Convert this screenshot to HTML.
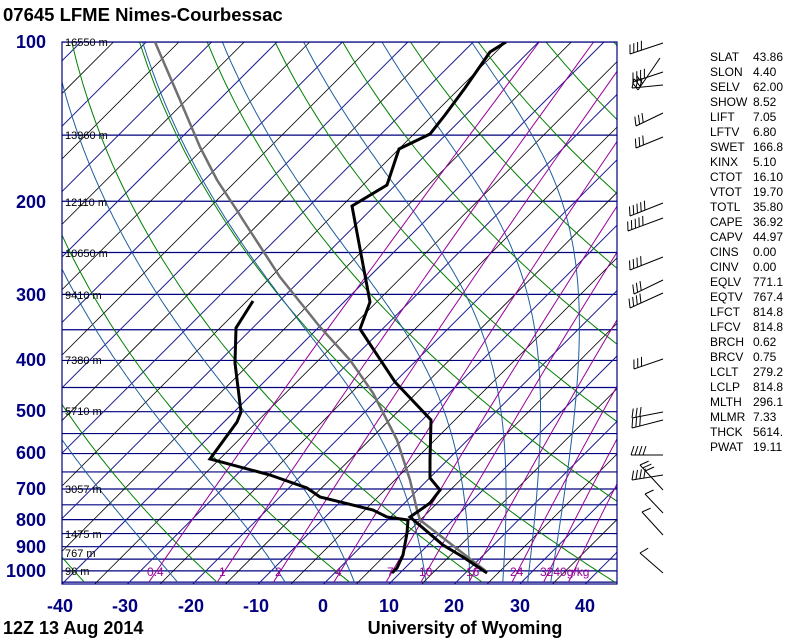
<!DOCTYPE html>
<html><head><meta charset="utf-8"><style>
html,body{margin:0;padding:0;background:#fff;width:800px;height:640px;overflow:hidden}
svg{display:block}
text{font-family:"Liberation Sans",sans-serif}
.pl{font-size:18px;font-weight:bold;fill:#000080;text-anchor:end}
.xl{font-size:18px;font-weight:bold;fill:#000080;text-anchor:middle}
.hl{font-size:11px;fill:#000}
.ix{font-size:12px;fill:#000}
.mr{font-size:12px;fill:#990099}
</style></head><body>
<svg id="s" width="800" height="640" viewBox="0 0 800 640" xmlns="http://www.w3.org/2000/svg">
<defs><clipPath id="c"><rect x="62" y="42" width="555" height="542"/></clipPath></defs>
<g id="grid" clip-path="url(#c)"></g>
<rect x="62" y="42" width="555" height="542" fill="none" stroke="#000080" stroke-width="1.2"/>
<g id="prof" clip-path="url(#c)">
<polyline fill="none" stroke="#707070" stroke-width="2.5" points="487,572 420,520 417,510 410,480 397,440 373,393 350,360 320,327 280,277 243,220 238,212 217,180 200,147 180,100 155,42"/>
<polyline fill="none" stroke="#000" stroke-width="3" points="487,573 463,557 443,545 410,517 423,508 430,503 440,490 430,478 430,460 431,420 395,382 360,329 370,302 352,206 387,185 399,149 430,134 445,115 465,88 490,52 506,42"/>
<polyline fill="none" stroke="#000" stroke-width="3" points="253,301 236,328 235,363 241,412 237,422 210,459 270,475 307,488 320,497 373,510 387,517 408,520 407,533 403,555 397,568 392,573"/>
</g>
<text x="3" y="21" style="font-size:18.5px;font-weight:bold">07645 LFME Nimes-Courbessac</text>
<g>
<text class="pl" x="46" y="48">100</text>
<text class="pl" x="46" y="208">200</text>
<text class="pl" x="46" y="301">300</text>
<text class="pl" x="46" y="366">400</text>
<text class="pl" x="46" y="417">500</text>
<text class="pl" x="46" y="459">600</text>
<text class="pl" x="46" y="495">700</text>
<text class="pl" x="46" y="526">800</text>
<text class="pl" x="46" y="553">900</text>
<text class="pl" x="46" y="577">1000</text>
</g>
<g>
<text class="xl" x="60" y="612">-40</text>
<text class="xl" x="125" y="612">-30</text>
<text class="xl" x="191" y="612">-20</text>
<text class="xl" x="256" y="612">-10</text>
<text class="xl" x="323" y="612">0</text>
<text class="xl" x="389" y="612">10</text>
<text class="xl" x="454" y="612">20</text>
<text class="xl" x="520" y="612">30</text>
<text class="xl" x="585" y="612">40</text>
</g>
<g>
<text class="hl" x="65" y="46">16550 m</text>
<text class="hl" x="65" y="139">13960 m</text>
<text class="hl" x="65" y="206">12110 m</text>
<text class="hl" x="65" y="257">10650 m</text>
<text class="hl" x="65" y="299">9410 m</text>
<text class="hl" x="65" y="364">7380 m</text>
<text class="hl" x="65" y="415">5710 m</text>
<text class="hl" x="65" y="493">3057 m</text>
<text class="hl" x="65" y="538">1475 m</text>
<text class="hl" x="65" y="557">767 m</text>
<text class="hl" x="65" y="575">96 m</text>
</g>
<g>
<text class="mr" x="147" y="576">0.4</text>
<text class="mr" x="219" y="576">1</text>
<text class="mr" x="275" y="576">2</text>
<text class="mr" x="335" y="576">4</text>
<text class="mr" x="387" y="576">7</text>
<text class="mr" x="419" y="576">10</text>
<text class="mr" x="466" y="576">16</text>
<text class="mr" x="510" y="576">24</text>
<text class="mr" x="540" y="576">3240g/kg</text>
</g>
<text x="3" y="634" style="font-size:18px;font-weight:bold">12Z 13 Aug 2014</text>
<text x="465" y="634" style="font-size:18px;font-weight:bold;text-anchor:middle">University of Wyoming</text>
<g class="ix">
<text class="ix" x="710" y="61">SLAT</text><text class="ix" x="753" y="61">43.86</text>
<text class="ix" x="710" y="76">SLON</text><text class="ix" x="753" y="76">4.40</text>
<text class="ix" x="710" y="91">SELV</text><text class="ix" x="753" y="91">62.00</text>
<text class="ix" x="710" y="106">SHOW</text><text class="ix" x="753" y="106">8.52</text>
<text class="ix" x="710" y="121">LIFT</text><text class="ix" x="753" y="121">7.05</text>
<text class="ix" x="710" y="136">LFTV</text><text class="ix" x="753" y="136">6.80</text>
<text class="ix" x="710" y="151">SWET</text><text class="ix" x="753" y="151">166.8</text>
<text class="ix" x="710" y="166">KINX</text><text class="ix" x="753" y="166">5.10</text>
<text class="ix" x="710" y="181">CTOT</text><text class="ix" x="753" y="181">16.10</text>
<text class="ix" x="710" y="196">VTOT</text><text class="ix" x="753" y="196">19.70</text>
<text class="ix" x="710" y="211">TOTL</text><text class="ix" x="753" y="211">35.80</text>
<text class="ix" x="710" y="226">CAPE</text><text class="ix" x="753" y="226">36.92</text>
<text class="ix" x="710" y="241">CAPV</text><text class="ix" x="753" y="241">44.97</text>
<text class="ix" x="710" y="256">CINS</text><text class="ix" x="753" y="256">0.00</text>
<text class="ix" x="710" y="271">CINV</text><text class="ix" x="753" y="271">0.00</text>
<text class="ix" x="710" y="286">EQLV</text><text class="ix" x="753" y="286">771.1</text>
<text class="ix" x="710" y="301">EQTV</text><text class="ix" x="753" y="301">767.4</text>
<text class="ix" x="710" y="316">LFCT</text><text class="ix" x="753" y="316">814.8</text>
<text class="ix" x="710" y="331">LFCV</text><text class="ix" x="753" y="331">814.8</text>
<text class="ix" x="710" y="346">BRCH</text><text class="ix" x="753" y="346">0.62</text>
<text class="ix" x="710" y="361">BRCV</text><text class="ix" x="753" y="361">0.75</text>
<text class="ix" x="710" y="376">LCLT</text><text class="ix" x="753" y="376">279.2</text>
<text class="ix" x="710" y="391">LCLP</text><text class="ix" x="753" y="391">814.8</text>
<text class="ix" x="710" y="406">MLTH</text><text class="ix" x="753" y="406">296.1</text>
<text class="ix" x="710" y="421">MLMR</text><text class="ix" x="753" y="421">7.33</text>
<text class="ix" x="710" y="436">THCK</text><text class="ix" x="753" y="436">5614.</text>
<text class="ix" x="710" y="451">PWAT</text><text class="ix" x="753" y="451">19.11</text>
</g>
<g id="barbs" fill="none" stroke="#000" stroke-width="1"></g>
</svg>
<script>
(function(){
var NS="http://www.w3.org/2000/svg";
var g=document.getElementById("grid");
function Y(p){return 42+229.7*Math.log(p/100);}
function X(T,p){return 62+(T+40)*6.54+(584-Y(p));}
function add(parent,tag,attrs){var e=document.createElementNS(NS,tag);for(var k in attrs)e.setAttribute(k,attrs[k]);parent.appendChild(e);return e;}
for(var p=100;p<=1050;p+=50){var y=Y(p);add(g,"line",{x1:62,x2:617,y1:y,y2:y,stroke:"#000080","stroke-width":1.2});}
for(var T=-170;T<=50;T+=5){var x0=62+(T+40)*6.54;add(g,"line",{x1:x0,y1:584,x2:x0+542,y2:42,stroke:(T%10==0?"#1a1a90":"#000"),"stroke-width":(T%10==0?1:0.8)});}
for(var th=193;th<=533;th+=20){var pts=[];for(var p=100;p<=1050;p+=10){var Tk=th*Math.pow(p/1000,0.2857);pts.push(X(Tk-273.15,p).toFixed(1)+","+Y(p).toFixed(1));}
add(g,"polyline",{points:pts.join(" "),fill:"none",stroke:"#008000","stroke-width":1});}
function es(T){return 6.112*Math.exp(17.67*T/(T+243.5));}
function ws(T,p){var e=es(T);return 0.622*e/(p-e);}
function dTdp(T,p){var Tk=T+273.15,w=ws(T,p),L=2.5e6,Rd=287,cp=1004;return (Rd*Tk+L*w)/(p*(cp+L*L*w*0.622/(Rd*Tk*Tk)));}
var starts=[-25.8,-9,2,13.4,20.3,25.5,29.4,33];
starts.forEach(function(T0){var pts=[];var T=T0,p=1000;var up=[];
 for(p=1000;p>=100;p-=2){up.push([T,p]);T-=dTdp(T,p)*2;}
 T=T0;var dn=[];for(p=1000;p<=1050;p+=2){dn.push([T,p]);T+=dTdp(T,p)*2;}
 dn.reverse().concat(up).forEach(function(a){pts.push(X(a[0],a[1]).toFixed(1)+","+Y(a[1]).toFixed(1));});
 add(g,"polyline",{points:pts.join(" "),fill:"none",stroke:"#1f5e9e","stroke-width":1});});
[0.4,1,2,4,7,10,16,24,32,40].forEach(function(w){var pts=[];for(var p=100;p<=1050;p+=10){var e=w*p/(622+w);var l=Math.log(e/6.112);var Td=243.5*l/(17.67-l);pts.push(X(Td,p).toFixed(1)+","+Y(p).toFixed(1));}
 add(g,"polyline",{points:pts.join(" "),fill:"none",stroke:"#990099","stroke-width":1});});
var b=document.getElementById("barbs");
function barb(x1,y1,x2,y2,n){add(b,"line",{x1:x1,y1:y1,x2:x2,y2:y2});var dx=x2-x1,dy=y2-y1,L=Math.sqrt(dx*dx+dy*dy),ux=dx/L,uy=dy/L;var nx=uy,ny=-ux;if(ny>0){nx=-nx;ny=-ny;}
 for(var i=0;i<n;i++){var bx=x2-ux*i*4,by=y2-uy*i*4;add(b,"line",{x1:bx,y1:by,x2:bx+nx*9-ux*3,y2:by+ny*9-uy*3});}}
barb(663,43,630,54,4);
barb(660,58,638,90,3);barb(663,72,633,82,4);barb(663,85,632,88,3);
barb(663,113,636,126,3);barb(663,137,636,148,3);
barb(663,203,630,216,5);barb(663,218,628,231,5);
barb(663,257,630,270,4);
barb(663,280,634,294,3);barb(663,293,630,308,4);
barb(663,359,634,369,3);
barb(663,412,632,418,3);barb(663,420,632,428,3);
barb(663,455,631,455,4);
barb(663,475,632,480,4);barb(663,490,640,465,3);
barb(663,513,645,494,1);barb(663,535,642,512,1);barb(663,573,640,553,1);
})();
</script>
</body></html>
